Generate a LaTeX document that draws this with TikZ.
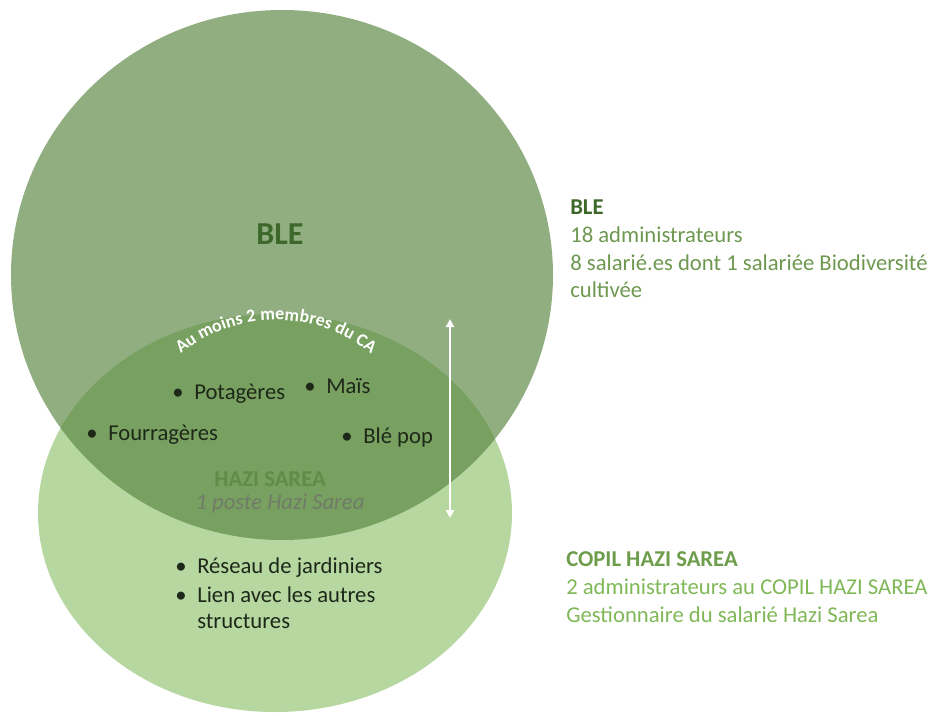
\documentclass[tikz,border=0pt]{standalone}
\usepackage{fontspec}
\setmainfont{Carlito}
\usepackage{tikz}
\usetikzlibrary{calc, arrows.meta, decorations.text}

\definecolor{blefill}{RGB}{88,132,64}
\definecolor{hazifill}{RGB}{182,215,160}
\definecolor{bledark}{RGB}{62,104,42}
\definecolor{bletxt}{RGB}{110,152,80}
\definecolor{copiltxt}{RGB}{128,184,88}
\definecolor{hazitxt}{RGB}{95,140,70}
\definecolor{postetxt}{RGB}{112,124,104}
\definecolor{itemtxt}{RGB}{30,40,25}

\newcommand{\itm}{\makebox[16.5pt][l]{\textbullet}}

\tikzset{
  item/.style={anchor=base west, inner sep=0pt, text=itemtxt, font=\fontsize{17}{20.5}\selectfont},
  side/.style={anchor=base west, inner sep=0pt, align=left, font=\fontsize{17}{20.75}\selectfont},
}

\begin{document}
\begin{tikzpicture}[x=0.75pt, y=0.75pt]
\useasboundingbox (0,0) rectangle (934,715);
\fill [hazifill] (275,202) ellipse [x radius=237, y radius=199];
\fill [blefill, fill opacity=0.66] (282,440) ellipse [x radius=271, y radius=265];

\node [text=bledark, font=\fontsize{24}{29}\selectfont\bfseries] (ble) at (280,481) {BLE};
\path [decorate, decoration={text along path, text align=center, text color=white,
  text={|\fontsize{13.5}{15}\selectfont\bfseries|Au moins 2 membres du CA}}]
  (181.6,361.6) arc [start angle=129, end angle=51, radius=150];

\node [item] (potag) at (172,316) {\itm Potagères};
\node [item] (mais) at (304,322) {\itm Maïs};
\node [item] (fourr) at (86,275) {\itm Fourragères};
\node [item] (blepop) at (341,272) {\itm Blé pop};

\node [text=hazitxt, font=\fontsize{17}{20}\selectfont\bfseries] (hazi) at (270,236) {HAZI SAREA};
\node [text=postetxt, font=\fontsize{17}{20}\selectfont\itshape] (poste) at (280,211) {1 poste Hazi Sarea};

\node [item] (reseau) at (175,142) {\itm Réseau de jardiniers};
\node [item] (lien) at (175,113) {\itm Lien avec les autres};
\node [item] (struct) at (lien.base west) [yshift=-19.5pt, xshift=16.5pt] {structures};

\coordinate (arrtop) at (450,396);
\coordinate (arrbot) at (450,197);
\draw [white, line width=1.5pt, {Triangle[length=6pt,width=6pt]}-{Triangle[length=6pt,width=6pt]}] (arrtop) -- (arrbot);

\node [side, text=bletxt] (bleinfo) at (570,417)
  {\textcolor{bledark}{\bfseries BLE}\\18 administrateurs\\8 salarié.es dont 1 salariée Biodiversité\\cultivée};
\node [side, text=copiltxt] (copilinfo) at (566,93)
  {\textcolor{copiltxt!85!black}{\bfseries COPIL HAZI SAREA}\\2 administrateurs au COPIL HAZI SAREA\\Gestionnaire du salarié Hazi Sarea};
\end{tikzpicture}
\end{document}
